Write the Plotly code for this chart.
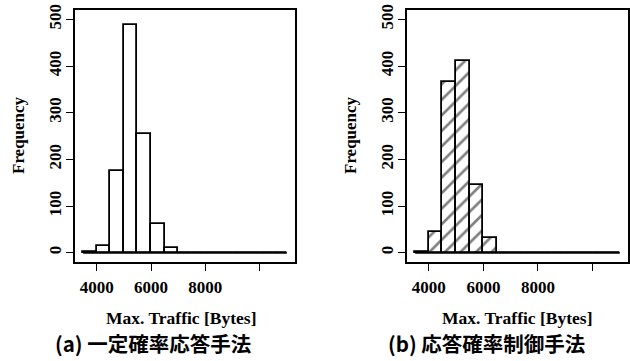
import plotly.graph_objects as go

# ---- data ----
bin_start = 3500
bin_width = 500
counts_a = [1, 14, 176, 488, 255, 61, 9, 0, 0, 0, 0, 0, 0, 0, 0]
counts_b = [1, 45, 366, 411, 146, 31, 0, 0, 0, 0, 0, 0, 0, 0, 0]
x_ticks = [4000, 6000, 8000, 10000]
x_ticklabels = ["4000", "6000", "8000", ""]
y_ticks = [0, 100, 200, 300, 400, 500]
x_title = "Max. Traffic [Bytes]"
y_title = "Frequency"
captions = ["(a) 一定確率応答手法", "(b) 応答確率制御手法"]

edges = [bin_start + i * bin_width for i in range(len(counts_a) + 1)]
centers = [bin_start + (i + 0.5) * bin_width for i in range(len(counts_a))]

W, H = 630, 361
serif = "Liberation Serif"
cjk = "Noto Sans CJK JP"

fig = go.Figure()

panels = [
    dict(counts=counts_a, xa="x", ya="y", dom=[75 / W, 295 / W], hatch=""),
    dict(counts=counts_b, xa="x2", ya="y2", dom=[407 / W, 628 / W], hatch="/"),
]

for p in panels:
    fig.add_trace(go.Bar(
        x=centers, y=p["counts"], width=bin_width,
        xaxis=p["xa"], yaxis=p["ya"],
        marker=dict(color="white", line=dict(color="black", width=1.8),
                    pattern=dict(shape=p["hatch"], fgcolor="black", bgcolor="white",
                                 size=11, solidity=0.24)),
        showlegend=False,
    ))
    # zero-height bins drawn as a flat line along the baseline
    fig.add_trace(go.Scatter(
        x=[edges[0], edges[-1]], y=[0, 0], mode="lines",
        line=dict(color="black", width=2),
        xaxis=p["xa"], yaxis=p["ya"], showlegend=False, hoverinfo="skip",
    ))

axis_common = dict(showline=True, linecolor="black", linewidth=1.8, mirror=True,
                   ticks="outside", ticklen=7, tickwidth=1.3, tickcolor="black",
                   showgrid=False, zeroline=False, automargin=False,
                   tickfont=dict(family=serif, size=17, color="black", weight="bold"))

layout = dict(
    width=W, height=H, plot_bgcolor="white", paper_bgcolor="white",
    margin=dict(l=0, r=0, t=10, b=99, autoexpand=False), bargap=0,
)
for i, p in enumerate(panels):
    sx = "" if i == 0 else "2"
    layout["xaxis" + sx] = dict(axis_common, domain=p["dom"], range=[3200, 11300],
                                tickvals=x_ticks, ticktext=x_ticklabels,
                                ticklabelstandoff=2, anchor="y" + sx)
    layout["yaxis" + sx] = dict(axis_common, domain=[0, 1], range=[-20, 520],
                                tickvals=y_ticks, tickangle=-90,
                                ticklabelstandoff=-2, anchor="x" + sx)
fig.update_layout(**layout)

ann = []
for xt, xc, yf, cap in [(182, 153, 18, captions[0]), (517, 487, 350, captions[1])]:
    ann.append(dict(x=xt / W, y=(262 - 318) / 252, xref="paper", yref="paper",
                    xanchor="center", yanchor="middle",
                    text="<b>" + x_title + "</b>", showarrow=False,
                    font=dict(family=serif, size=17.5, color="black")))
    ann.append(dict(x=xc / W, y=(262 - 343) / 252, xref="paper", yref="paper",
                    xanchor="center", yanchor="middle",
                    text="<b>" + cap + "</b>", showarrow=False,
                    font=dict(family=cjk, size=20.5, color="black")))
    ann.append(dict(x=yf / W, y=(262 - 135) / 252, xref="paper", yref="paper",
                    xanchor="center", yanchor="middle",
                    text="<b>" + y_title + "</b>", showarrow=False, textangle=-90,
                    font=dict(family=serif, size=17, color="black")))
fig.update_layout(annotations=ann)

fig.write_html("out.html", config={"displayModeBar": False},
               post_script="document.body.style.margin='0';")
